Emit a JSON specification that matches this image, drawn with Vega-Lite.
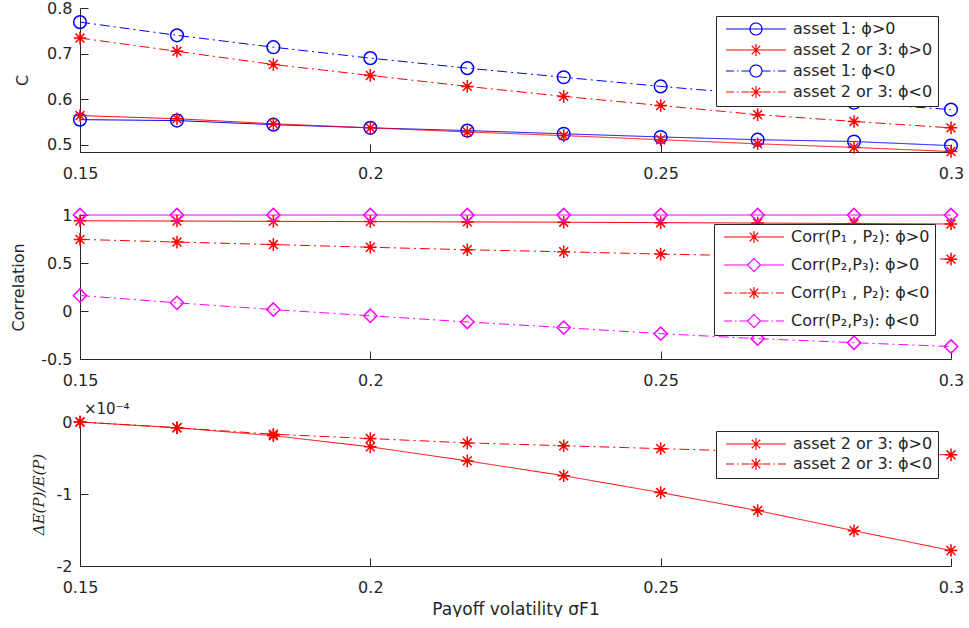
{
  "$schema": "https://vega.github.io/schema/vega-lite/v6.json",
  "padding": {"left": 10, "top": 0, "right": 5, "bottom": 0},
  "spacing": 63,
  "bounds": "flush",
  "config": {
    "font": "DejaVu Sans",
    "view": {"stroke": null},
    "axis": {
      "grid": false,
      "domainColor": "#262626",
      "tickColor": "#262626",
      "labelColor": "#262626",
      "titleColor": "#262626",
      "labelFont": "DejaVu Sans",
      "titleFont": "DejaVu Sans",
      "labelFontSize": 16,
      "titleFontSize": 16,
      "titleFontWeight": "normal",
      "tickSize": -8,
      "domainWidth": 1,
      "tickWidth": 1,
      "labelFlush": false
    },
    "axisX": {"labelPadding": 21},
    "axisY": {"labelPadding": 16},
    "legend": {
      "orient": "none",
      "fillColor": "white",
      "strokeColor": "#262626",
      "padding": 5,
      "labelFont": "DejaVu Sans",
      "labelFontSize": 16,
      "labelColor": "#262626",
      "symbolSize": 100,
      "symbolOffset": 27,
      "labelOffset": 29,
      "symbolStrokeWidth": 1.2
    }
  },
  "resolve": {
    "scale": {"x": "independent", "y": "independent", "color": "independent", "shape": "independent", "strokeDash": "independent"},
    "legend": {"color": "independent"}
  },
  "vconcat": [
    {
      "width": 871,
      "height": 144,
      "data": {"values": [
        {"x": 0.15, "y": 0.555, "series": "asset 1: ϕ>0", "asset": "1", "phi": ">0"},
        {"x": 0.1667, "y": 0.553, "series": "asset 1: ϕ>0", "asset": "1", "phi": ">0"},
        {"x": 0.1833, "y": 0.544, "series": "asset 1: ϕ>0", "asset": "1", "phi": ">0"},
        {"x": 0.2, "y": 0.537, "series": "asset 1: ϕ>0", "asset": "1", "phi": ">0"},
        {"x": 0.2167, "y": 0.531, "series": "asset 1: ϕ>0", "asset": "1", "phi": ">0"},
        {"x": 0.2333, "y": 0.524, "series": "asset 1: ϕ>0", "asset": "1", "phi": ">0"},
        {"x": 0.25, "y": 0.517, "series": "asset 1: ϕ>0", "asset": "1", "phi": ">0"},
        {"x": 0.2667, "y": 0.511, "series": "asset 1: ϕ>0", "asset": "1", "phi": ">0"},
        {"x": 0.2833, "y": 0.507, "series": "asset 1: ϕ>0", "asset": "1", "phi": ">0"},
        {"x": 0.3, "y": 0.498, "series": "asset 1: ϕ>0", "asset": "1", "phi": ">0"},
        {"x": 0.15, "y": 0.564, "series": "asset 2 or 3: ϕ>0", "asset": "2 or 3", "phi": ">0"},
        {"x": 0.1667, "y": 0.557, "series": "asset 2 or 3: ϕ>0", "asset": "2 or 3", "phi": ">0"},
        {"x": 0.1833, "y": 0.546, "series": "asset 2 or 3: ϕ>0", "asset": "2 or 3", "phi": ">0"},
        {"x": 0.2, "y": 0.537, "series": "asset 2 or 3: ϕ>0", "asset": "2 or 3", "phi": ">0"},
        {"x": 0.2167, "y": 0.528, "series": "asset 2 or 3: ϕ>0", "asset": "2 or 3", "phi": ">0"},
        {"x": 0.2333, "y": 0.52, "series": "asset 2 or 3: ϕ>0", "asset": "2 or 3", "phi": ">0"},
        {"x": 0.25, "y": 0.511, "series": "asset 2 or 3: ϕ>0", "asset": "2 or 3", "phi": ">0"},
        {"x": 0.2667, "y": 0.502, "series": "asset 2 or 3: ϕ>0", "asset": "2 or 3", "phi": ">0"},
        {"x": 0.2833, "y": 0.494, "series": "asset 2 or 3: ϕ>0", "asset": "2 or 3", "phi": ">0"},
        {"x": 0.3, "y": 0.485, "series": "asset 2 or 3: ϕ>0", "asset": "2 or 3", "phi": ">0"},
        {"x": 0.15, "y": 0.769, "series": "asset 1: ϕ<0", "asset": "1", "phi": "<0"},
        {"x": 0.1667, "y": 0.74, "series": "asset 1: ϕ<0", "asset": "1", "phi": "<0"},
        {"x": 0.1833, "y": 0.714, "series": "asset 1: ϕ<0", "asset": "1", "phi": "<0"},
        {"x": 0.2, "y": 0.69, "series": "asset 1: ϕ<0", "asset": "1", "phi": "<0"},
        {"x": 0.2167, "y": 0.668, "series": "asset 1: ϕ<0", "asset": "1", "phi": "<0"},
        {"x": 0.2333, "y": 0.648, "series": "asset 1: ϕ<0", "asset": "1", "phi": "<0"},
        {"x": 0.25, "y": 0.628, "series": "asset 1: ϕ<0", "asset": "1", "phi": "<0"},
        {"x": 0.2667, "y": 0.61, "series": "asset 1: ϕ<0", "asset": "1", "phi": "<0"},
        {"x": 0.2833, "y": 0.592, "series": "asset 1: ϕ<0", "asset": "1", "phi": "<0"},
        {"x": 0.3, "y": 0.577, "series": "asset 1: ϕ<0", "asset": "1", "phi": "<0"},
        {"x": 0.15, "y": 0.734, "series": "asset 2 or 3: ϕ<0", "asset": "2 or 3", "phi": "<0"},
        {"x": 0.1667, "y": 0.705, "series": "asset 2 or 3: ϕ<0", "asset": "2 or 3", "phi": "<0"},
        {"x": 0.1833, "y": 0.676, "series": "asset 2 or 3: ϕ<0", "asset": "2 or 3", "phi": "<0"},
        {"x": 0.2, "y": 0.652, "series": "asset 2 or 3: ϕ<0", "asset": "2 or 3", "phi": "<0"},
        {"x": 0.2167, "y": 0.628, "series": "asset 2 or 3: ϕ<0", "asset": "2 or 3", "phi": "<0"},
        {"x": 0.2333, "y": 0.606, "series": "asset 2 or 3: ϕ<0", "asset": "2 or 3", "phi": "<0"},
        {"x": 0.25, "y": 0.586, "series": "asset 2 or 3: ϕ<0", "asset": "2 or 3", "phi": "<0"},
        {"x": 0.2667, "y": 0.566, "series": "asset 2 or 3: ϕ<0", "asset": "2 or 3", "phi": "<0"},
        {"x": 0.2833, "y": 0.551, "series": "asset 2 or 3: ϕ<0", "asset": "2 or 3", "phi": "<0"},
        {"x": 0.3, "y": 0.537, "series": "asset 2 or 3: ϕ<0", "asset": "2 or 3", "phi": "<0"}
      ]},
      "encoding": {
        "x": {"field": "x", "type": "quantitative", "scale": {"domain": [0.15, 0.3], "nice": false, "zero": false},
              "axis": {"values": [0.15, 0.2, 0.25, 0.3], "labelExpr": "'' + datum.value", "title": null}},
        "y": {"field": "y", "type": "quantitative", "scale": {"domain": [0.484, 0.8], "nice": false, "zero": false},
              "axis": {"values": [0.5, 0.6, 0.7, 0.8], "labelExpr": "'' + datum.value", "title": "C", "titlePadding": 16}},
        "color": {"field": "series", "type": "nominal",
          "scale": {"domain": ["asset 1: ϕ>0", "asset 2 or 3: ϕ>0", "asset 1: ϕ<0", "asset 2 or 3: ϕ<0"], "range": ["#0000ff", "#ff0000", "#0000ff", "#ff0000"]},
          "legend": {"title": null, "legendX": 636, "legendY": 8, "rowPadding": 3,
            "encode": {"symbols": {"update": {
              "shape": {"signal": "datum.value === 'asset 1: ϕ<0' ? 'M-6,0L-4.4,0M-3.8,0L-3.5,0M-2.9,0L-1.3,0M1.3,0L2.9,0M3.5,0L3.8,0M4.4,0L6,0M1.2,0A1.2,1.2 0 1,1 -1.2,0A1.2,1.2 0 1,1 1.2,0Z' : datum.value === 'asset 1: ϕ>0' ? 'M-6,0L6,0M1.2,0A1.2,1.2 0 1,1 -1.2,0A1.2,1.2 0 1,1 1.2,0Z' : datum.value === 'asset 2 or 3: ϕ<0' ? 'M-6,0L-4.4,0M-3.8,0L-3.5,0M-2.9,0L-1.3,0M1.3,0L2.9,0M3.5,0L3.8,0M4.4,0L6,0M-1.2,0L1.2,0M0,-1.2L0,1.2M-0.85,-0.85L0.85,0.85M-0.85,0.85L0.85,-0.85' : 'M-6,0L6,0M0,-1.2L0,1.2M-0.85,-0.85L0.85,0.85M-0.85,0.85L0.85,-0.85'"},
              "fill": {"value": "transparent"},
              "strokeDash": {"value": [1, 0]},
              "strokeWidth": {"value": 1.2},
              "opacity": {"value": 1}
            }}}
          }
        }
      },
      "layer": [
        {"mark": {"type": "line", "strokeWidth": 1},
         "encoding": {"strokeDash": {"field": "phi", "type": "nominal",
           "scale": {"domain": [">0", "<0"], "range": [[1, 0], [10, 4, 2, 4]]}, "legend": null}}},
        {"mark": {"type": "point", "filled": false, "strokeWidth": 1.5, "size": 160, "opacity": 1},
         "encoding": {"shape": {"field": "asset", "type": "nominal",
           "scale": {"domain": ["1", "2 or 3"],
             "range": ["M1,0A1,1 0 1,1 -1,0A1,1 0 1,1 1,0Z", "M-1,0L1,0M0,-1L0,1M-0.7,-0.7L0.7,0.7M-0.7,0.7L0.7,-0.7"]}, "legend": null}}}
      ]
    },
    {
      "width": 871,
      "height": 144,
      "data": {"values": [
        {"x": 0.15, "y": 0.94, "series": "Corr(P₁ , P₂): ϕ>0", "pair": "P1,P2", "phi": ">0"},
        {"x": 0.1667, "y": 0.937, "series": "Corr(P₁ , P₂): ϕ>0", "pair": "P1,P2", "phi": ">0"},
        {"x": 0.1833, "y": 0.934, "series": "Corr(P₁ , P₂): ϕ>0", "pair": "P1,P2", "phi": ">0"},
        {"x": 0.2, "y": 0.931, "series": "Corr(P₁ , P₂): ϕ>0", "pair": "P1,P2", "phi": ">0"},
        {"x": 0.2167, "y": 0.928, "series": "Corr(P₁ , P₂): ϕ>0", "pair": "P1,P2", "phi": ">0"},
        {"x": 0.2333, "y": 0.925, "series": "Corr(P₁ , P₂): ϕ>0", "pair": "P1,P2", "phi": ">0"},
        {"x": 0.25, "y": 0.92, "series": "Corr(P₁ , P₂): ϕ>0", "pair": "P1,P2", "phi": ">0"},
        {"x": 0.2667, "y": 0.916, "series": "Corr(P₁ , P₂): ϕ>0", "pair": "P1,P2", "phi": ">0"},
        {"x": 0.2833, "y": 0.911, "series": "Corr(P₁ , P₂): ϕ>0", "pair": "P1,P2", "phi": ">0"},
        {"x": 0.3, "y": 0.906, "series": "Corr(P₁ , P₂): ϕ>0", "pair": "P1,P2", "phi": ">0"},
        {"x": 0.15, "y": 1, "series": "Corr(P₂,P₃): ϕ>0", "pair": "P2,P3", "phi": ">0"},
        {"x": 0.1667, "y": 1, "series": "Corr(P₂,P₃): ϕ>0", "pair": "P2,P3", "phi": ">0"},
        {"x": 0.1833, "y": 1, "series": "Corr(P₂,P₃): ϕ>0", "pair": "P2,P3", "phi": ">0"},
        {"x": 0.2, "y": 1, "series": "Corr(P₂,P₃): ϕ>0", "pair": "P2,P3", "phi": ">0"},
        {"x": 0.2167, "y": 1, "series": "Corr(P₂,P₃): ϕ>0", "pair": "P2,P3", "phi": ">0"},
        {"x": 0.2333, "y": 1, "series": "Corr(P₂,P₃): ϕ>0", "pair": "P2,P3", "phi": ">0"},
        {"x": 0.25, "y": 1, "series": "Corr(P₂,P₃): ϕ>0", "pair": "P2,P3", "phi": ">0"},
        {"x": 0.2667, "y": 1, "series": "Corr(P₂,P₃): ϕ>0", "pair": "P2,P3", "phi": ">0"},
        {"x": 0.2833, "y": 1, "series": "Corr(P₂,P₃): ϕ>0", "pair": "P2,P3", "phi": ">0"},
        {"x": 0.3, "y": 1, "series": "Corr(P₂,P₃): ϕ>0", "pair": "P2,P3", "phi": ">0"},
        {"x": 0.15, "y": 0.746, "series": "Corr(P₁ , P₂): ϕ<0", "pair": "P1,P2", "phi": "<0"},
        {"x": 0.1667, "y": 0.718, "series": "Corr(P₁ , P₂): ϕ<0", "pair": "P1,P2", "phi": "<0"},
        {"x": 0.1833, "y": 0.692, "series": "Corr(P₁ , P₂): ϕ<0", "pair": "P1,P2", "phi": "<0"},
        {"x": 0.2, "y": 0.664, "series": "Corr(P₁ , P₂): ϕ<0", "pair": "P1,P2", "phi": "<0"},
        {"x": 0.2167, "y": 0.638, "series": "Corr(P₁ , P₂): ϕ<0", "pair": "P1,P2", "phi": "<0"},
        {"x": 0.2333, "y": 0.617, "series": "Corr(P₁ , P₂): ϕ<0", "pair": "P1,P2", "phi": "<0"},
        {"x": 0.25, "y": 0.593, "series": "Corr(P₁ , P₂): ϕ<0", "pair": "P1,P2", "phi": "<0"},
        {"x": 0.2667, "y": 0.573, "series": "Corr(P₁ , P₂): ϕ<0", "pair": "P1,P2", "phi": "<0"},
        {"x": 0.2833, "y": 0.556, "series": "Corr(P₁ , P₂): ϕ<0", "pair": "P1,P2", "phi": "<0"},
        {"x": 0.3, "y": 0.54, "series": "Corr(P₁ , P₂): ϕ<0", "pair": "P1,P2", "phi": "<0"},
        {"x": 0.15, "y": 0.161, "series": "Corr(P₂,P₃): ϕ<0", "pair": "P2,P3", "phi": "<0"},
        {"x": 0.1667, "y": 0.085, "series": "Corr(P₂,P₃): ϕ<0", "pair": "P2,P3", "phi": "<0"},
        {"x": 0.1833, "y": 0.015, "series": "Corr(P₂,P₃): ϕ<0", "pair": "P2,P3", "phi": "<0"},
        {"x": 0.2, "y": -0.05, "series": "Corr(P₂,P₃): ϕ<0", "pair": "P2,P3", "phi": "<0"},
        {"x": 0.2167, "y": -0.114, "series": "Corr(P₂,P₃): ϕ<0", "pair": "P2,P3", "phi": "<0"},
        {"x": 0.2333, "y": -0.173, "series": "Corr(P₂,P₃): ϕ<0", "pair": "P2,P3", "phi": "<0"},
        {"x": 0.25, "y": -0.236, "series": "Corr(P₂,P₃): ϕ<0", "pair": "P2,P3", "phi": "<0"},
        {"x": 0.2667, "y": -0.288, "series": "Corr(P₂,P₃): ϕ<0", "pair": "P2,P3", "phi": "<0"},
        {"x": 0.2833, "y": -0.33, "series": "Corr(P₂,P₃): ϕ<0", "pair": "P2,P3", "phi": "<0"},
        {"x": 0.3, "y": -0.37, "series": "Corr(P₂,P₃): ϕ<0", "pair": "P2,P3", "phi": "<0"}
      ]},
      "encoding": {
        "x": {"field": "x", "type": "quantitative", "scale": {"domain": [0.15, 0.3], "nice": false, "zero": false},
              "axis": {"values": [0.15, 0.2, 0.25, 0.3], "labelExpr": "'' + datum.value", "title": null}},
        "y": {"field": "y", "type": "quantitative", "scale": {"domain": [-0.5, 1], "nice": false, "zero": false},
              "axis": {"values": [-0.5, 0, 0.5, 1], "labelExpr": "'' + datum.value", "title": "Correlation", "titlePadding": 14}},
        "color": {"field": "series", "type": "nominal",
          "scale": {"domain": ["Corr(P₁ , P₂): ϕ>0", "Corr(P₂,P₃): ϕ>0", "Corr(P₁ , P₂): ϕ<0", "Corr(P₂,P₃): ϕ<0"], "range": ["#ff0000", "#ff00ff", "#ff0000", "#ff00ff"]},
          "legend": {"title": null, "legendX": 634, "legendY": 9, "rowPadding": 10,
            "encode": {"symbols": {"update": {
              "shape": {"signal": "datum.value === 'Corr(P₂,P₃): ϕ<0' ? 'M-6,0L-4.4,0M-3.8,0L-3.5,0M-2.9,0L-1.3,0M1.3,0L2.9,0M3.5,0L3.8,0M4.4,0L6,0M0,-1.3L1.3,0L0,1.3L-1.3,0Z' : datum.value === 'Corr(P₂,P₃): ϕ>0' ? 'M-6,0L-1.3,0M1.3,0L6,0M0,-1.3L1.3,0L0,1.3L-1.3,0Z' : datum.value === 'Corr(P₁ , P₂): ϕ<0' ? 'M-6,0L-4.4,0M-3.8,0L-3.5,0M-2.9,0L-1.3,0M1.3,0L2.9,0M3.5,0L3.8,0M4.4,0L6,0M-1.2,0L1.2,0M0,-1.2L0,1.2M-0.85,-0.85L0.85,0.85M-0.85,0.85L0.85,-0.85' : 'M-6,0L6,0M0,-1.2L0,1.2M-0.85,-0.85L0.85,0.85M-0.85,0.85L0.85,-0.85'"},
              "fill": {"value": "transparent"},
              "strokeDash": {"value": [1, 0]},
              "strokeWidth": {"value": 1.2},
              "opacity": {"value": 1}
            }}}
          }
        }
      },
      "layer": [
        {"mark": {"type": "line", "strokeWidth": 1},
         "encoding": {"strokeDash": {"field": "phi", "type": "nominal",
           "scale": {"domain": [">0", "<0"], "range": [[1, 0], [10, 4, 2, 4]]}, "legend": null}}},
        {"mark": {"type": "point", "filled": false, "strokeWidth": 1.5, "size": 160, "opacity": 1},
         "encoding": {"shape": {"field": "pair", "type": "nominal",
           "scale": {"domain": ["P1,P2", "P2,P3"],
             "range": ["M-1,0L1,0M0,-1L0,1M-0.7,-0.7L0.7,0.7M-0.7,0.7L0.7,-0.7", "M0,-1.05L1.05,0L0,1.05L-1.05,0Z"]}, "legend": null}}}
      ]
    },
    {
      "width": 871,
      "height": 144,
      "title": {"text": "×10⁻⁴", "anchor": "start", "frame": "group", "fontSize": 15, "fontWeight": "normal", "font": "DejaVu Sans", "color": "#262626", "offset": -4, "dx": 4},
      "data": {"values": [
        {"x": 0.15, "y": 0, "series": "asset 2 or 3: ϕ>0", "phi": ">0"},
        {"x": 0.1667, "y": -0.08, "series": "asset 2 or 3: ϕ>0", "phi": ">0"},
        {"x": 0.1833, "y": -0.19, "series": "asset 2 or 3: ϕ>0", "phi": ">0"},
        {"x": 0.2, "y": -0.345, "series": "asset 2 or 3: ϕ>0", "phi": ">0"},
        {"x": 0.2167, "y": -0.54, "series": "asset 2 or 3: ϕ>0", "phi": ">0"},
        {"x": 0.2333, "y": -0.746, "series": "asset 2 or 3: ϕ>0", "phi": ">0"},
        {"x": 0.25, "y": -0.98, "series": "asset 2 or 3: ϕ>0", "phi": ">0"},
        {"x": 0.2667, "y": -1.23, "series": "asset 2 or 3: ϕ>0", "phi": ">0"},
        {"x": 0.2833, "y": -1.51, "series": "asset 2 or 3: ϕ>0", "phi": ">0"},
        {"x": 0.3, "y": -1.785, "series": "asset 2 or 3: ϕ>0", "phi": ">0"},
        {"x": 0.15, "y": 0, "series": "asset 2 or 3: ϕ<0", "phi": "<0"},
        {"x": 0.1667, "y": -0.08, "series": "asset 2 or 3: ϕ<0", "phi": "<0"},
        {"x": 0.1833, "y": -0.17, "series": "asset 2 or 3: ϕ<0", "phi": "<0"},
        {"x": 0.2, "y": -0.23, "series": "asset 2 or 3: ϕ<0", "phi": "<0"},
        {"x": 0.2167, "y": -0.29, "series": "asset 2 or 3: ϕ<0", "phi": "<0"},
        {"x": 0.2333, "y": -0.33, "series": "asset 2 or 3: ϕ<0", "phi": "<0"},
        {"x": 0.25, "y": -0.37, "series": "asset 2 or 3: ϕ<0", "phi": "<0"},
        {"x": 0.2667, "y": -0.41, "series": "asset 2 or 3: ϕ<0", "phi": "<0"},
        {"x": 0.2833, "y": -0.44, "series": "asset 2 or 3: ϕ<0", "phi": "<0"},
        {"x": 0.3, "y": -0.456, "series": "asset 2 or 3: ϕ<0", "phi": "<0"}
      ]},
      "encoding": {
        "x": {"field": "x", "type": "quantitative", "scale": {"domain": [0.15, 0.3], "nice": false, "zero": false},
              "axis": {"values": [0.15, 0.2, 0.25, 0.3], "labelExpr": "'' + datum.value", "title": "Payoff volatility σF1", "titleFontSize": 17, "titlePadding": 6}},
        "y": {"field": "y", "type": "quantitative", "scale": {"domain": [-2, 0], "nice": false, "zero": false},
              "axis": {"values": [-2, -1, 0], "labelExpr": "'' + datum.value", "title": "ΔE(P)/E(P)", "titleFont": "DejaVu Serif", "titleFontStyle": "italic", "titleFontSize": 15, "titlePadding": 10}},
        "color": {"field": "series", "type": "nominal",
          "scale": {"domain": ["asset 2 or 3: ϕ>0", "asset 2 or 3: ϕ<0"], "range": ["#ff0000", "#ff0000"]},
          "legend": {"title": null, "legendX": 636, "legendY": 9, "rowPadding": 2,
            "encode": {"symbols": {"update": {
              "shape": {"signal": "datum.value === 'asset 2 or 3: ϕ<0' ? 'M-6,0L-4.4,0M-3.8,0L-3.5,0M-2.9,0L-1.3,0M1.3,0L2.9,0M3.5,0L3.8,0M4.4,0L6,0M-1.2,0L1.2,0M0,-1.2L0,1.2M-0.85,-0.85L0.85,0.85M-0.85,0.85L0.85,-0.85' : 'M-6,0L6,0M0,-1.2L0,1.2M-0.85,-0.85L0.85,0.85M-0.85,0.85L0.85,-0.85'"},
              "fill": {"value": "transparent"},
              "strokeDash": {"value": [1, 0]},
              "strokeWidth": {"value": 1.2},
              "opacity": {"value": 1}
            }}}
          }
        }
      },
      "layer": [
        {"mark": {"type": "line", "strokeWidth": 1},
         "encoding": {"strokeDash": {"field": "phi", "type": "nominal",
           "scale": {"domain": [">0", "<0"], "range": [[1, 0], [10, 4, 2, 4]]}, "legend": null}}},
        {"mark": {"type": "point", "filled": false, "strokeWidth": 1.5, "size": 160, "opacity": 1, "shape": "M-1,0L1,0M0,-1L0,1M-0.7,-0.7L0.7,0.7M-0.7,0.7L0.7,-0.7"}}
      ]
    }
  ]
}
